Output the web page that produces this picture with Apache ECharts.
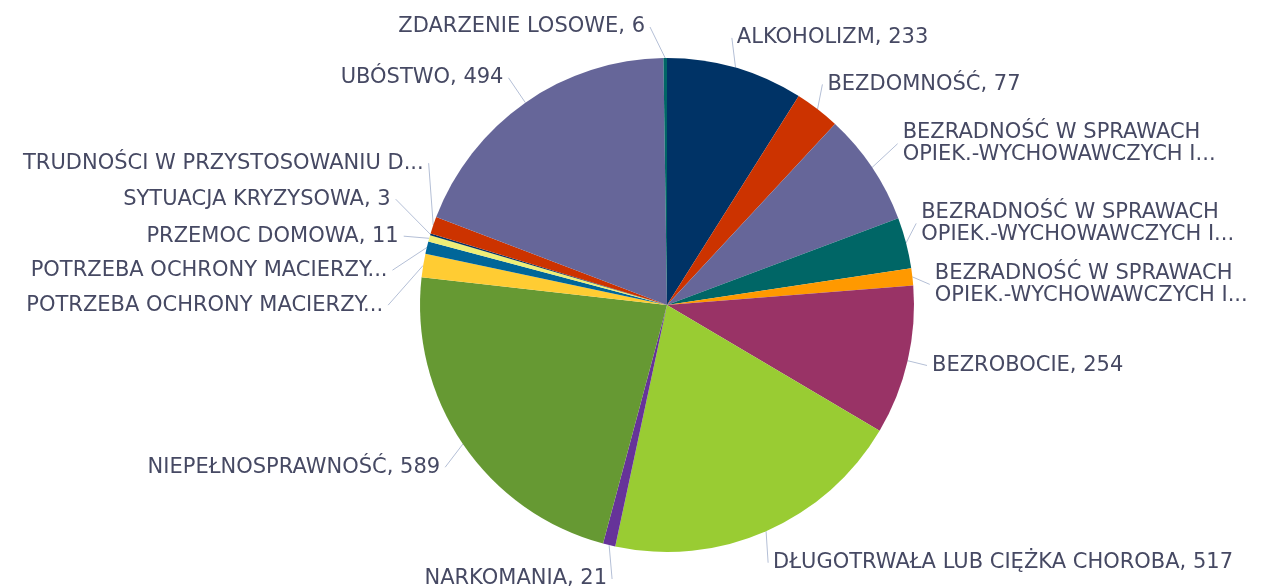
<!DOCTYPE html>
<html>
<head>
<meta charset="utf-8">
<script src="https://cdn.jsdelivr.net/npm/echarts@6/dist/echarts.min.js"></script>
<style>
html, body { margin: 0; padding: 0; background: #fff; }
#main { width: 1261px; height: 587px; }
</style>
</head>
<body>
<div id="main"></div>
<script>
var names = [
    'ALKOHOLIZM',
    'BEZDOMNOŚĆ',
    'BEZRADNOŚĆ W SPRAWACH\nOPIEK.-WYCHOWAWCZYCH I...',
    'BEZRADNOŚĆ W SPRAWACH\nOPIEK.-WYCHOWAWCZYCH I... ',
    'BEZRADNOŚĆ W SPRAWACH\nOPIEK.-WYCHOWAWCZYCH I...  ',
    'BEZROBOCIE',
    'DŁUGOTRWAŁA LUB CIĘŻKA CHOROBA',
    'NARKOMANIA',
    'NIEPEŁNOSPRAWNOŚĆ',
    'POTRZEBA OCHRONY MACIERZY...',
    'POTRZEBA OCHRONY MACIERZY... ',
    'PRZEMOC DOMOWA',
    'SYTUACJA KRYZYSOWA',
    'TRUDNOŚCI W PRZYSTOSOWANIU D...',
    'UBÓSTWO',
    'ZDARZENIE LOSOWE'
];
var values = [233, 77, 192, 87, 29, 254, 517, 21, 589, 40, 21, 11, 3, 29, 494, 6];
var palette = ['#003366', '#cc3300', '#666699', '#006666', '#ff9900', '#993366',
               '#99cc33', '#663399', '#669933', '#ffcc33', '#006699', '#eeee77'];

// nudges for labels: [dx, dy] by data index
var labelShift = {
    0: [-12, -1], 1: [-10, -1], 2: [5, -7], 3: [-14, -12], 4: [-9, -9],
    5: [-5, -2], 6: [-10, 4], 7: [10, 10], 8: [3, 10],
    9: [-12, -52], 10: [-3, -51], 11: [8, -49], 12: [-5, -50], 13: [18, -50],
    14: [-5, 0], 15: [-15, -1]
};

var myChart = echarts.init(document.getElementById('main'));

var pieData = names.map(function (n, i) {
    return {name: n, value: values[i]};
});

var option = {
    color: palette,
    animation: false,
    series: [
        {
            type: 'pie',
            center: [667, 305],
            radius: 247,
            startAngle: 90,
            data: pieData,
            label: {
                color: '#464963',
                fontFamily: 'DejaVu Sans',
                fontSize: 21,
                lineHeight: 22,
                padding: [6, 0],
                overflow: 'none',
                formatter: function (p) {
                    if (p.name.indexOf('...') >= 0) return p.name.trim();
                    return p.name + ', ' + p.value;
                }
            },
            labelLine: {
                length: 30,
                length2: 0,
                lineStyle: {color: '#b4bfd6', width: 1}
            },
            labelLayout: function (params) {
                var s = labelShift[params.dataIndex];
                if (!s) return {};
                var res = {dx: s[0], dy: s[1]};
                var pts = params.labelLinePoints;
                if (pts && pts.length) {
                    res.labelLinePoints = [
                        [pts[0][0], pts[0][1]],
                        [pts[pts.length - 1][0] + s[0], pts[pts.length - 1][1] + s[1]],
                        [pts[pts.length - 1][0] + s[0], pts[pts.length - 1][1] + s[1]]
                    ];
                }
                return res;
            }
        }
    ]
};

myChart.setOption(option);
</script>
</body>
</html>
